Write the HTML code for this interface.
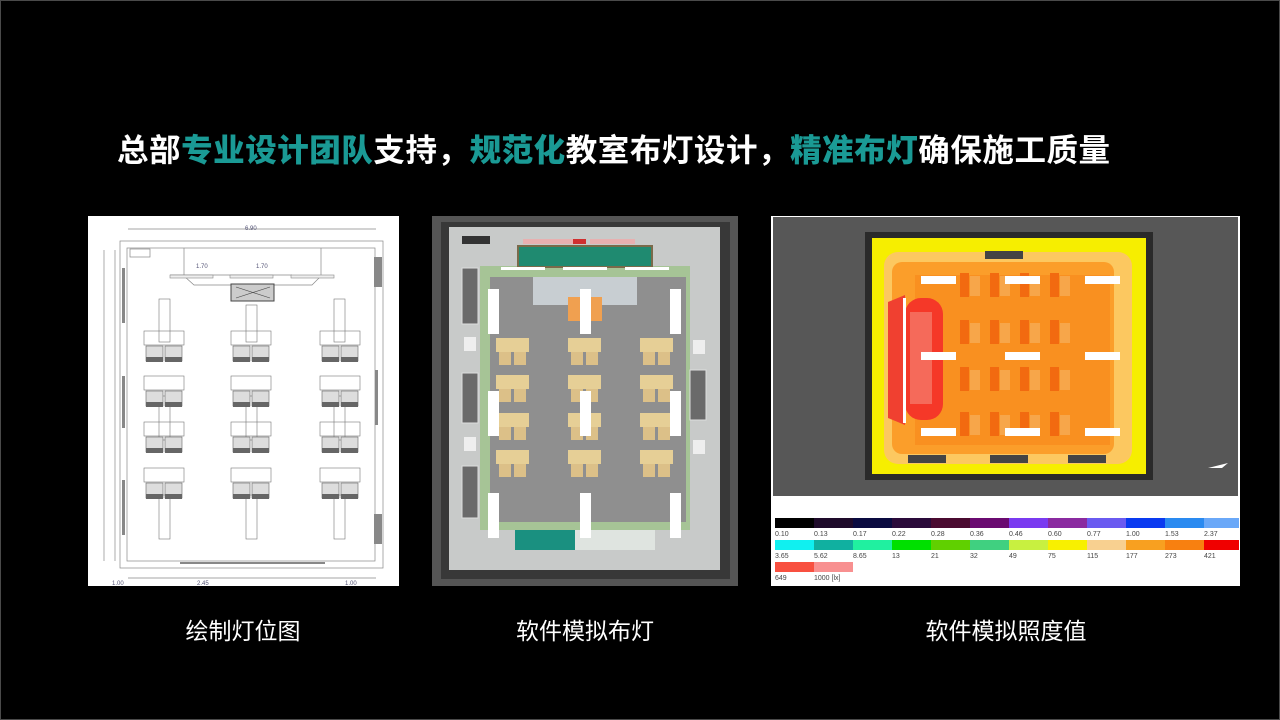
<!DOCTYPE html>
<html><head><meta charset="utf-8"><style>
html,body{margin:0;padding:0;background:#000;}
body{width:1280px;height:720px;overflow:hidden;position:relative;font-family:"Liberation Sans","Noto Sans CJK SC",sans-serif;}
.frame{position:absolute;left:0;top:0;width:1278px;height:718px;border:1px solid #4a4a4a;}
.title{position:absolute;left:117px;top:130px;font-size:31.5px;font-weight:bold;color:#fff;white-space:nowrap;letter-spacing:0.55px;line-height:40px;}
.title b{color:#1a9a95;}
.cap{position:absolute;top:615px;font-size:23px;color:#fff;line-height:32px;white-space:nowrap;transform:translateX(-50%);}
svg{position:absolute;left:0;top:0;}
</style></head><body>
<div class="frame"></div>
<div class="title">总部<b>专业设计团队</b>支持，<b>规范化</b>教室布灯设计，<b>精准布灯</b>确保施工质量</div>
<div class="cap" style="left:243px">绘制灯位图</div>
<div class="cap" style="left:585px">软件模拟布灯</div>
<div class="cap" style="left:1006px">软件模拟照度值</div>

<svg width="1280" height="720" viewBox="0 0 1280 720">
<defs>
 <g id="cad">
  <rect x="0" y="0" width="40" height="14" fill="none" stroke="#777" stroke-width="0.6"/>
  <rect x="2" y="15" width="17" height="15" fill="#ddd" stroke="#666" stroke-width="0.6"/>
  <rect x="21" y="15" width="17" height="15" fill="#ddd" stroke="#666" stroke-width="0.6"/>
  <rect x="2" y="26" width="17" height="5" fill="#666"/>
  <rect x="21" y="26" width="17" height="5" fill="#666"/>
 </g>
 <g id="desk3">
  <rect x="0" y="0" width="33" height="14" fill="#e6cf96"/>
  <rect x="3" y="14" width="12" height="13" fill="#dcc088"/>
  <rect x="18" y="14" width="12" height="13" fill="#dcc088"/>
 </g>
 <g id="hm">
  <rect x="0" y="0" width="9" height="24" fill="#f26a10"/>
  <rect x="10" y="3" width="10" height="20" fill="#f7a64a"/>
 </g>
</defs>

<!-- IMAGE 1: CAD plan -->
<rect x="88" y="216" width="311" height="370" fill="#fff"/>
<g fill="none" stroke="#888" stroke-width="0.7">
 <rect x="120" y="241" width="263" height="327"/>
 <rect x="127" y="248" width="248" height="313"/>
 <line x1="128" y1="229" x2="376" y2="229"/>
 <line x1="104" y1="250" x2="104" y2="561"/>
 <line x1="115" y1="250" x2="115" y2="561"/>
 <line x1="128" y1="578" x2="376" y2="578"/>
 <polyline points="184,248 184,276 194,285 312,285 321,276 321,248"/>
 <line x1="170" y1="275" x2="292" y2="275"/>
 <rect x="130" y="249" width="20" height="8"/>
</g>
<g fill="#eee" stroke="#888" stroke-width="0.6">
 <rect x="170" y="275" width="43" height="3"/><rect x="230" y="275" width="43" height="3"/><rect x="291" y="275" width="43" height="3"/>
</g>
<rect x="231" y="284" width="43" height="17" fill="#ccc" stroke="#444" stroke-width="1"/>
<path d="M236 287 L270 298 M270 287 L236 298" stroke="#444" stroke-width="0.6"/>
<g fill="#888"><rect x="122" y="268" width="3" height="55"/><rect x="122" y="376" width="3" height="52"/><rect x="122" y="480" width="3" height="55"/>
<rect x="374" y="257" width="8" height="30" /><rect x="375" y="370" width="3" height="55"/><rect x="374" y="514" width="8" height="30"/>
<rect x="180" y="562" width="145" height="2"/></g>
<g font-size="6" fill="#557" font-family="Liberation Sans">
 <text x="245" y="230">6.90</text><text x="196" y="268">1.70</text><text x="256" y="268">1.70</text>
 <text x="112" y="585">1.00</text><text x="197" y="585">2.45</text><text x="345" y="585">1.00</text>
</g>
<g fill="#fff" stroke="#777" stroke-width="0.6">
 <rect x="159" y="299" width="11" height="43"/><rect x="246" y="305" width="11" height="37"/><rect x="334" y="299" width="11" height="43"/>
 <rect x="159" y="396" width="11" height="44"/><rect x="246" y="396" width="11" height="44"/><rect x="334" y="396" width="11" height="44"/>
 <rect x="159" y="495" width="11" height="44"/><rect x="246" y="495" width="11" height="44"/><rect x="334" y="495" width="11" height="44"/>
</g>
<use href="#cad" x="144" y="331"/><use href="#cad" x="231" y="331"/><use href="#cad" x="320" y="331"/>
<use href="#cad" x="144" y="376"/><use href="#cad" x="231" y="376"/><use href="#cad" x="320" y="376"/>
<use href="#cad" x="144" y="422"/><use href="#cad" x="231" y="422"/><use href="#cad" x="320" y="422"/>
<use href="#cad" x="144" y="468"/><use href="#cad" x="231" y="468"/><use href="#cad" x="320" y="468"/>

<!-- IMAGE 2: render -->
<rect x="432" y="216" width="306" height="370" fill="#555"/>
<rect x="441" y="222" width="289" height="357" fill="#383838"/>
<rect x="449" y="227" width="271" height="343" fill="#c8cac9"/>
<rect x="480" y="266" width="210" height="264" fill="#a6c496"/>
<rect x="490" y="277" width="196" height="245" fill="#8f8f8f"/>
<rect x="517" y="245" width="136" height="23" fill="#7a6a4a"/>
<rect x="519" y="247" width="132" height="19" fill="#1f8a70"/>
<rect x="523" y="239" width="60" height="5" fill="#e8b0b0"/><rect x="573" y="239" width="13" height="5" fill="#d03030"/><rect x="590" y="239" width="45" height="5" fill="#e8b0b0"/>
<rect x="462" y="236" width="28" height="8" fill="#333"/>
<rect x="533" y="277" width="104" height="28" fill="#c8ced2"/>
<rect x="568" y="297" width="34" height="24" fill="#f0a050"/>
<g fill="#6a6a6a" stroke="#ddd" stroke-width="1">
 <rect x="462" y="268" width="16" height="56"/><rect x="462" y="373" width="16" height="50"/><rect x="462" y="466" width="16" height="52"/>
 <rect x="690" y="370" width="16" height="50"/>
</g>
<g fill="#eee"><rect x="464" y="337" width="12" height="14"/><rect x="464" y="437" width="12" height="14"/><rect x="693" y="340" width="12" height="14"/><rect x="693" y="440" width="12" height="14"/></g>
<rect x="515" y="530" width="60" height="20" fill="#1a9080"/><rect x="575" y="530" width="80" height="20" fill="#dfe4e0"/>
<g>
 <use href="#desk3" x="496" y="338"/><use href="#desk3" x="568" y="338"/><use href="#desk3" x="640" y="338"/>
 <use href="#desk3" x="496" y="375"/><use href="#desk3" x="568" y="375"/><use href="#desk3" x="640" y="375"/>
 <use href="#desk3" x="496" y="413"/><use href="#desk3" x="568" y="413"/><use href="#desk3" x="640" y="413"/>
 <use href="#desk3" x="496" y="450"/><use href="#desk3" x="568" y="450"/><use href="#desk3" x="640" y="450"/>
</g>
<g fill="#fff">
 <rect x="501" y="267" width="44" height="3"/><rect x="563" y="267" width="44" height="3"/><rect x="625" y="267" width="44" height="3"/>
 <rect x="488" y="289" width="11" height="45"/><rect x="580" y="289" width="11" height="45"/><rect x="670" y="289" width="11" height="45"/>
 <rect x="488" y="391" width="11" height="45"/><rect x="580" y="391" width="11" height="45"/><rect x="670" y="391" width="11" height="45"/>
 <rect x="488" y="493" width="11" height="45"/><rect x="580" y="493" width="11" height="45"/><rect x="670" y="493" width="11" height="45"/>
</g>

<!-- IMAGE 3: illuminance -->
<rect x="771" y="216" width="469" height="370" fill="#fff"/>
<rect x="773" y="217" width="465" height="279" fill="#575757"/>
<rect x="865" y="232" width="288" height="248" fill="#2a2a2a"/>
<rect x="872" y="238" width="274" height="236" fill="#f6ee00"/>
<rect x="884" y="252" width="248" height="212" rx="14" fill="#fcc860"/>
<rect x="892" y="262" width="222" height="192" rx="10" fill="#fb9e2a"/>
<rect x="915" y="275" width="195" height="170" fill="#f99020"/>
<path d="M888 302 L905 295 L905 425 L888 418 Z" fill="#f04030"/>
<rect x="905" y="298" width="38" height="122" rx="16" fill="#f53828"/>
<rect x="910" y="312" width="22" height="92" fill="#f56a5a"/>
<rect x="903" y="298" width="3" height="125" fill="#fff"/>
<g>
 <use href="#hm" x="960" y="273"/><use href="#hm" x="990" y="273"/><use href="#hm" x="1020" y="273"/><use href="#hm" x="1050" y="273"/>
 <use href="#hm" x="960" y="320"/><use href="#hm" x="990" y="320"/><use href="#hm" x="1020" y="320"/><use href="#hm" x="1050" y="320"/>
 <use href="#hm" x="960" y="367"/><use href="#hm" x="990" y="367"/><use href="#hm" x="1020" y="367"/><use href="#hm" x="1050" y="367"/>
 <use href="#hm" x="960" y="412"/><use href="#hm" x="990" y="412"/><use href="#hm" x="1020" y="412"/><use href="#hm" x="1050" y="412"/>
</g>
<g fill="#fff">
 <rect x="921" y="276" width="35" height="8"/><rect x="1005" y="276" width="35" height="8"/><rect x="1085" y="276" width="35" height="8"/>
 <rect x="921" y="352" width="35" height="8"/><rect x="1005" y="352" width="35" height="8"/><rect x="1085" y="352" width="35" height="8"/>
 <rect x="921" y="428" width="35" height="8"/><rect x="1005" y="428" width="35" height="8"/><rect x="1085" y="428" width="35" height="8"/>
</g>
<g fill="#444"><rect x="985" y="251" width="38" height="8"/><rect x="908" y="455" width="38" height="8"/><rect x="990" y="455" width="38" height="8"/><rect x="1068" y="455" width="38" height="8"/></g>
<path d="M1208 468 L1228 463 L1222 468 Z" fill="#fff"/>
<g>
 <rect x="775" y="518" width="39" height="10" fill="#000"/><rect x="814" y="518" width="39" height="10" fill="#1e0a2a"/><rect x="853" y="518" width="39" height="10" fill="#0a0a40"/><rect x="892" y="518" width="39" height="10" fill="#2a0a3a"/><rect x="931" y="518" width="39" height="10" fill="#4a0a30"/><rect x="970" y="518" width="39" height="10" fill="#6a0a70"/><rect x="1009" y="518" width="39" height="10" fill="#7a3af0"/><rect x="1048" y="518" width="39" height="10" fill="#8a2aa0"/><rect x="1087" y="518" width="39" height="10" fill="#6a5af0"/><rect x="1126" y="518" width="39" height="10" fill="#0a3af0"/><rect x="1165" y="518" width="39" height="10" fill="#2a8af0"/><rect x="1204" y="518" width="35" height="10" fill="#6aa8f8"/>
 <rect x="775" y="540" width="39" height="10" fill="#10f0f0"/><rect x="814" y="540" width="39" height="10" fill="#10b0a0"/><rect x="853" y="540" width="39" height="10" fill="#20f0a0"/><rect x="892" y="540" width="39" height="10" fill="#00e000"/><rect x="931" y="540" width="39" height="10" fill="#60d000"/><rect x="970" y="540" width="39" height="10" fill="#40d080"/><rect x="1009" y="540" width="39" height="10" fill="#c8f040"/><rect x="1048" y="540" width="39" height="10" fill="#f8f000"/><rect x="1087" y="540" width="39" height="10" fill="#f8d090"/><rect x="1126" y="540" width="39" height="10" fill="#f8a020"/><rect x="1165" y="540" width="39" height="10" fill="#f88010"/><rect x="1204" y="540" width="35" height="10" fill="#f00000"/>
 <rect x="775" y="562" width="39" height="10" fill="#f85040"/><rect x="814" y="562" width="39" height="10" fill="#f89090"/>
</g>
<g font-size="7" fill="#444" font-family="Liberation Sans">
 <text x="775" y="536">0.10</text><text x="814" y="536">0.13</text><text x="853" y="536">0.17</text><text x="892" y="536">0.22</text><text x="931" y="536">0.28</text><text x="970" y="536">0.36</text><text x="1009" y="536">0.46</text><text x="1048" y="536">0.60</text><text x="1087" y="536">0.77</text><text x="1126" y="536">1.00</text><text x="1165" y="536">1.53</text><text x="1204" y="536">2.37</text>
 <text x="775" y="558">3.65</text><text x="814" y="558">5.62</text><text x="853" y="558">8.65</text><text x="892" y="558">13</text><text x="931" y="558">21</text><text x="970" y="558">32</text><text x="1009" y="558">49</text><text x="1048" y="558">75</text><text x="1087" y="558">115</text><text x="1126" y="558">177</text><text x="1165" y="558">273</text><text x="1204" y="558">421</text>
 <text x="775" y="580">649</text><text x="814" y="580">1000 [lx]</text>
</g>
</svg>
</body></html>
